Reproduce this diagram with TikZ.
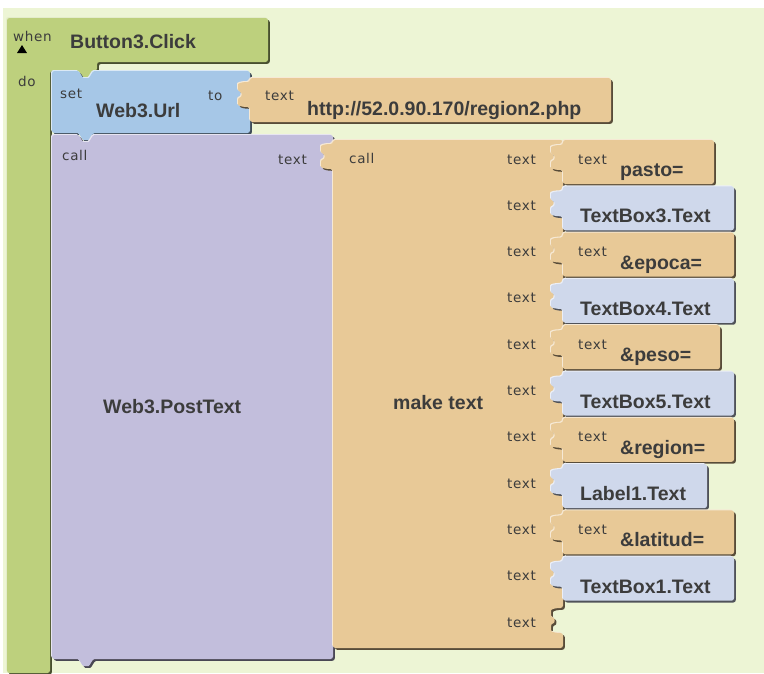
\documentclass[tikz,border=0pt]{standalone}
\usepackage{fontspec}
\setmainfont{Liberation Sans}
\newfontfamily\lblfont[LetterSpace=5]{DejaVu Sans}

\definecolor{bgc}{RGB}{237,245,213}
\definecolor{evtc}{RGB}{189,208,125}
\definecolor{setc}{RGB}{166,199,231}
\definecolor{callc}{RGB}{194,190,220}
\definecolor{strc}{RGB}{232,201,151}
\definecolor{getc}{RGB}{207,216,235}
\definecolor{txtc}{RGB}{60,60,60}

% puzzle edges (y grows downwards)
% male plug on a left edge, walked upwards, row top #2
\def\lplug#1#2{-- (#1,#2+30) .. controls (#1-7,#2+30) and (#1-12,#2+29) .. (#1-12,#2+25) -- (#1-12,#2+20.5) .. controls (#1-8,#2+20) and (#1-8,#2+15) .. (#1-12,#2+14.5) -- (#1-12,#2+10) .. controls (#1-12,#2+6) and (#1-7,#2+5) .. (#1,#2+5)}
% female socket on a right edge, walked downwards, row top #2
\def\rsock#1#2{-- (#1,#2+5) .. controls (#1-7,#2+5) and (#1-12,#2+6) .. (#1-12,#2+10) -- (#1-12,#2+14.5) .. controls (#1-8,#2+15) and (#1-8,#2+20) .. (#1-12,#2+20.5) -- (#1-12,#2+25) .. controls (#1-12,#2+29) and (#1-7,#2+30) .. (#1,#2+30)}
% statement notch on a top edge, walked rightwards
\def\tnotch#1#2{-- (#1,#2) .. controls (#1+5,#2) and (#1+7,#2+7) .. (#1+11,#2+7) .. controls (#1+15,#2+7) and (#1+17,#2) .. (#1+22,#2)}
% statement tab on a bottom edge, walked leftwards
\def\btab#1#2{-- (#1+22,#2) .. controls (#1+17,#2) and (#1+15,#2+7) .. (#1+11,#2+7) .. controls (#1+7,#2+7) and (#1+5,#2) .. (#1,#2)}

% bevelled block: shadow, highlight, face
\newcommand\block[2]{%
  \fill[#1!38!black, rounded corners=2.5pt, shift={(1.8,1.8)}] #2;
  \fill[#1!40!white, rounded corners=2.5pt, shift={(-1,-1)}] #2;
  \fill[#1, rounded corners=2.5pt] #2;
}

\tikzset{
  lbl/.style={font=\lblfont\fontsize{13.5}{15}\selectfont, text=txtc, inner sep=0pt, anchor=base west},
  bigtxt/.style={font=\bfseries\fontsize{19.5}{22}\selectfont, text=txtc, inner sep=0pt, anchor=base west}
}

% text literal block plugged into the join socket
\newcommand\strblk[4]{%
  \block{strc}{(563,#2) -- (#3,#2) -- (#3,#2+44) -- (563,#2+44) \lplug{563}{#2} -- cycle}
  \node[lbl] (#1-kw) at (578,#2+24) {text};
  \node[bigtxt] (#1) at (620,#2+36.5) {#4};
}
% component getter block plugged into the join socket
\newcommand\getblk[4]{%
  \block{getc}{(563,#2) -- (#3,#2) -- (#3,#2+44) -- (563,#2+44) \lplug{563}{#2} -- cycle}
  \node[bigtxt] (#1) at (580,#2+36.5) {#4};
}

\begin{document}
\begin{tikzpicture}[x=1pt,y=-1pt]
\useasboundingbox (0,0) rectangle (764,673);
\fill[bgc] (3,8) rectangle (764,673);

% event handler
\block{evtc}{(7,18) -- (268,18) -- (268,62) -- (97,62) \btab{75}{71} -- (50,71) -- (50,673) -- (7,673) -- cycle}
\node[lbl] (when) at (13,41) {when};
\fill[black] (17,53) -- (27,53) -- (22,45) -- cycle;
\node[bigtxt] (evt) at (70,48) {Button3.Click};
\node[lbl] (do) at (18,86) {do};

% setter
\block{setc}{(52,71) \tnotch{75}{71} -- (250,71) \rsock{250}{77} -- (250,133) \btab{75}{133} -- (52,133) -- cycle}
\node[lbl] (setkw) at (60,98) {set};
\node[bigtxt] (seturl) at (96,117) {Web3.Url};
\node[lbl] (tokw) at (208,100.5) {to};

% url literal
\block{strc}{(250,78) -- (611,78) -- (611,122) -- (250,122) \lplug{250}{77} -- cycle}
\node[lbl] (urlkw) at (265,100.5) {text};
\node[bigtxt] (url) at (307,115) {http://52.0.90.170/region2.php};

% PostText call
\block{callc}{(52,135) \tnotch{75}{135} -- (333,135) \rsock{333}{139} -- (333,659) \btab{75}{659} -- (52,659) -- cycle}
\node[lbl] (postcall) at (62,160.5) {call};
\node[lbl, anchor=base east] (postarg) at (307,164) {text};
\node[bigtxt] (post) at (103,413) {Web3.PostText};

% make text (join)
\block{strc}{(333,140) -- (563,140) \rsock{563}{140} \rsock{563}{186.3} \rsock{563}{232.6} \rsock{563}{278.9} \rsock{563}{325.2} \rsock{563}{371.5} \rsock{563}{417.8} \rsock{563}{464.1} \rsock{563}{510.4} \rsock{563}{556.7} \rsock{563}{603} -- (563,648) -- (333,648) \lplug{333}{139} -- cycle}
\node[lbl] (joincall) at (349,163) {call};
\node[bigtxt] (join) at (393,409) {make text};
\foreach \i in {0,...,10}
  \node[lbl] (arg\i) at (507,{140+46.3*\i+24}) {text};

% join arguments
\strblk{s0}{140}{714}{pasto=}
\getblk{g0}{186.3}{734}{TextBox3.Text}
\strblk{s1}{232.6}{734}{\&epoca=}
\getblk{g1}{278.9}{734}{TextBox4.Text}
\strblk{s2}{325.2}{720}{\&peso=}
\getblk{g2}{371.5}{734}{TextBox5.Text}
\strblk{s3}{417.8}{734}{\&region=}
\getblk{g3}{464.1}{707}{Label1.Text}
\strblk{s4}{510.4}{734}{\&latitud=}
\getblk{g4}{556.7}{734}{TextBox1.Text}
\end{tikzpicture}
\end{document}
